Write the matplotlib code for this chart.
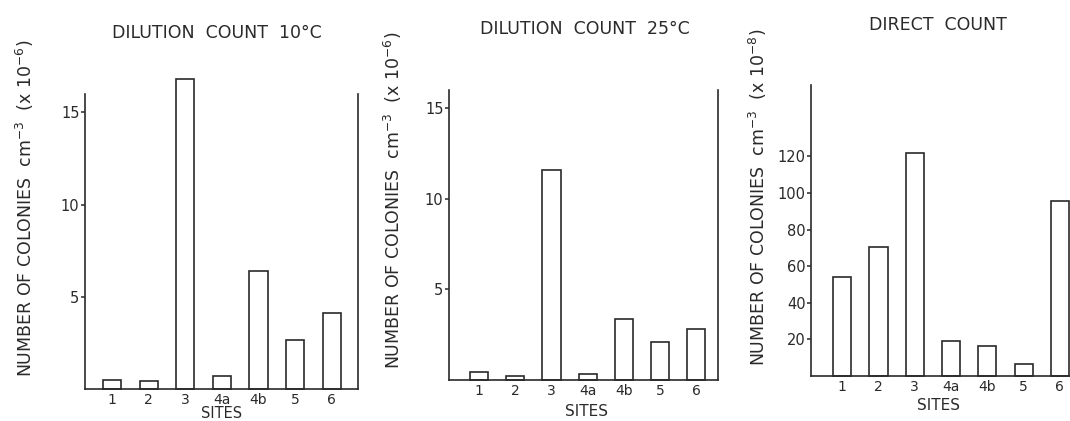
import numpy as np
import matplotlib
matplotlib.use("Agg")
import matplotlib.pyplot as plt

# data
sites = ["1", "2", "3", "4a", "4b", "5", "6"]
dil10 = [0.5, 0.45, 16.8, 0.7, 6.4, 2.65, 4.1]      # x 10^-6
dil25 = [0.45, 0.2, 11.6, 0.35, 3.35, 2.1, 2.8]     # x 10^-6
direct = [54, 70.5, 122, 19, 16.5, 6.5, 95.5]       # x 10^-8

ink = "#2a2a2a"
plt.rcParams['font.family'] = ['DejaVu Sans']
plt.rcParams['text.color'] = ink
plt.rcParams['axes.edgecolor'] = ink
plt.rcParams['xtick.color'] = ink
plt.rcParams['ytick.color'] = ink

W, H = 1070, 421
fig = plt.figure(figsize=(W / 100, H / 100), dpi=100)


def px_axes(left, right, top, zero):
    return fig.add_axes([left / W, 1 - zero / H, (right - left) / W, (zero - top) / H])


def draw(ax, vals, ylim, yticks, xlim, right_spine=True):
    x = np.arange(len(sites))
    bars = ax.bar(x, vals, width=0.5, facecolor="white", edgecolor=ink, linewidth=1.2)
    for b in bars:
        b.set_clip_on(False)
    ax.set_xlim(*xlim)
    ax.set_ylim(*ylim)
    ax.set_yticks(yticks)
    ax.set_xticks(x)
    ax.set_xticklabels(sites, fontsize=10)
    ax.tick_params(axis='x', length=0, pad=3)
    ax.tick_params(axis='y', length=3, width=1.1, direction='out', pad=1, labelsize=10.5)
    ax.spines['top'].set_visible(False)
    ax.spines['right'].set_visible(right_spine)
    for s in ax.spines.values():
        s.set_linewidth(1.2)
    ax.set_facecolor("none")


ax1 = px_axes(85, 358, 94, 389)
draw(ax1, dil10, (0, 16), [5, 10, 15], (-0.74, 6.72))
ax2 = px_axes(449, 718, 90, 380)
draw(ax2, dil25, (0, 16), [5, 10, 15], (-0.83, 6.6))
ax3 = px_axes(811, 1078, 85, 376)
draw(ax3, direct, (0, 159), [20, 40, 60, 80, 100, 120], (-0.86, 6.5), right_spine=False)

# titles
fig.text(217 / W, 1 - 33 / H, "DILUTION  COUNT  10°C", ha='center', va='center', fontsize=12.5)
fig.text(585 / W, 1 - 29 / H, "DILUTION  COUNT  25°C", ha='center', va='center', fontsize=12.5)
fig.text(938 / W, 1 - 25 / H, "DIRECT  COUNT", ha='center', va='center', fontsize=12.5)

# x labels
fig.text(222 / W, 1 - 413 / H, "SITES", ha='center', va='center', fontsize=10.5)
fig.text(587 / W, 1 - 411 / H, "SITES", ha='center', va='center', fontsize=11)
fig.text(938 / W, 1 - 405 / H, "SITES", ha='center', va='center', fontsize=11)

# y labels
fig.text(25 / W, 1 - 208 / H, r"NUMBER OF COLONIES  cm$^{-3}$  (x 10$^{-6}$)",
         rotation=90, ha='center', va='center', fontsize=12.5)
fig.text(393 / W, 1 - 200 / H, r"NUMBER OF COLONIES  cm$^{-3}$  (x 10$^{-6}$)",
         rotation=90, ha='center', va='center', fontsize=12.5)
fig.text(758 / W, 1 - 197 / H, r"NUMBER OF COLONIES  cm$^{-3}$  (x 10$^{-8}$)",
         rotation=90, ha='center', va='center', fontsize=12.5)

fig.savefig("out.png", dpi=100, facecolor="white")
